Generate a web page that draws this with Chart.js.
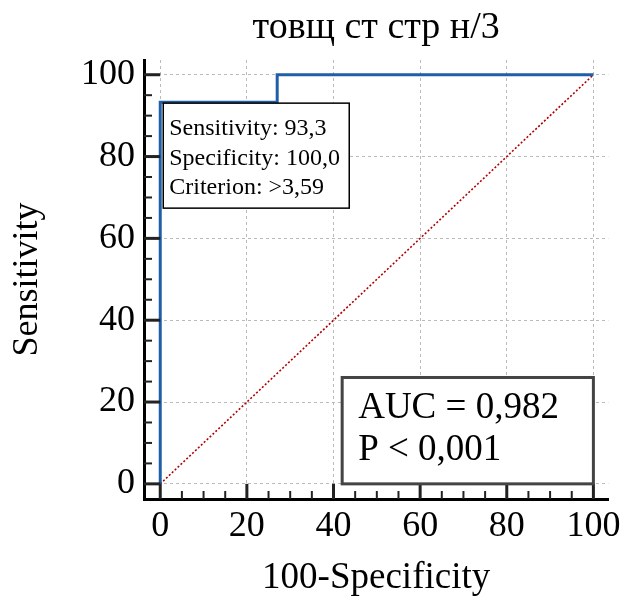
<!DOCTYPE html>
<html><head><meta charset="utf-8">
<script src="https://cdn.jsdelivr.net/npm/chart.js@4/dist/chart.umd.min.js"></script>
<style>html,body{margin:0;padding:0;background:#fff}#wrap{width:627px;height:599px}</style>
</head><body><div id="wrap"><canvas id="c" width="627" height="599"></canvas></div>
<script>
const titleText = "товщ ст стр н/3";
const xTitle = "100-Specificity";
const yTitle = "Sensitivity";
const rocX = [0, 0, 27, 27, 100];
const rocY = [0, 93.3, 93.3, 100, 100];
const diagX = [0, 100];
const diagY = [0, 100];
const majorTicks = [0, 20, 40, 60, 80, 100];
const minorTicks = [5,10,15,25,30,35,45,50,55,65,70,75,85,90,95];
const infoLines = ["Sensitivity: 93,3", "Specificity: 100,0", "Criterion: >3,59"];
const aucLines = ["AUC = 0,982", "P < 0,001"];
const cutPoint = {x: 0, y: 93.3};
const aucBox = {x0: 42, y0: 26, x1: 100, y1: 0};

const FONT = "'Liberation Serif','Times New Roman',serif";
const toPts = (xs, ys) => xs.map((x, i) => ({x, y: ys[i]}));

const overlay = {
  id: 'overlay',
  afterDraw(chart) {
    const ctx = chart.ctx, xs = chart.scales.x, ys = chart.scales.y, a = chart.chartArea;
    ctx.save();
    ctx.strokeStyle = '#222';
    majorTicks.forEach(v => {
      ctx.lineWidth = 3;
      const px = xs.getPixelForValue(v), py = ys.getPixelForValue(v);
      ctx.beginPath(); ctx.moveTo(px, a.bottom); ctx.lineTo(px, ys.getPixelForValue(0)); ctx.stroke();
      ctx.beginPath(); ctx.moveTo(a.left, py); ctx.lineTo(xs.getPixelForValue(0), py); ctx.stroke();
    });
    minorTicks.forEach(v => {
      ctx.lineWidth = 2;
      const px = xs.getPixelForValue(v), py = ys.getPixelForValue(v);
      ctx.beginPath(); ctx.moveTo(px, a.bottom); ctx.lineTo(px, a.bottom - 8); ctx.stroke();
      ctx.beginPath(); ctx.moveTo(a.left, py); ctx.lineTo(a.left + 8, py); ctx.stroke();
    });
    const bx = xs.getPixelForValue(cutPoint.x) + 3, by = ys.getPixelForValue(cutPoint.y) + 1;
    ctx.fillStyle = '#fff'; ctx.fillRect(bx, by, 186, 105);
    ctx.strokeStyle = '#000'; ctx.lineWidth = 1.5; ctx.strokeRect(bx, by, 186, 105);
    ctx.fillStyle = '#000'; ctx.font = '24px ' + FONT; ctx.textBaseline = 'alphabetic';
    infoLines.forEach((t, i) => ctx.fillText(t, bx + 6, by + 32 + i * 29.5));
    const ax0 = xs.getPixelForValue(aucBox.x0), ay0 = ys.getPixelForValue(aucBox.y0);
    const ax1 = xs.getPixelForValue(aucBox.x1), ay1 = ys.getPixelForValue(aucBox.y1);
    ctx.fillStyle = '#fff'; ctx.fillRect(ax0, ay0, ax1 - ax0, ay1 - ay0);
    ctx.strokeStyle = '#444'; ctx.lineWidth = 3; ctx.strokeRect(ax0, ay0, ax1 - ax0, ay1 - ay0);
    ctx.fillStyle = '#000'; ctx.font = '37px ' + FONT;
    aucLines.forEach((t, i) => ctx.fillText(t, ax0 + 16, ay0 + 41 + i * 42));
    ctx.restore();
  }
};

new Chart(document.getElementById('c'), {
  type: 'line',
  data: {
    datasets: [
      {data: toPts(rocX, rocY), borderColor: '#1f5ea8', borderWidth: 3, pointRadius: 0, fill: false, tension: 0, order: 0},
      {data: toPts(diagX, diagY), borderColor: '#b00000', borderWidth: 1.6, borderDash: [2, 2], pointRadius: 0, fill: false, tension: 0, order: 1}
    ]
  },
  options: {
    responsive: false, animation: false, devicePixelRatio: 1,
    layout: {padding: {left: 0, right: 15, top: 0, bottom: 0}},
    plugins: {
      legend: {display: false}, tooltip: {enabled: false},
      title: {display: true, fullSize: false, text: titleText, color: '#000', font: {family: FONT, size: 38, weight: 'normal', lineHeight: 1.2}, padding: {top: 5, bottom: 9.4}}
    },
    scales: {
      x: {
        type: 'linear', min: -3.75, max: 103.45,
        afterBuildTicks: s => { s.ticks = majorTicks.map(v => ({value: v})); },
        afterFit: s => { s.height = 100; },
        ticks: {color: '#000', font: {family: FONT, size: 36}, padding: 6, maxRotation: 0, autoSkip: false},
        grid: {color: '#bbb', lineWidth: 1, drawTicks: false, tickLength: 0},
        border: {display: true, color: '#000', width: 3, dash: [3, 3]},
        title: {display: true, text: xTitle, color: '#000', font: {family: FONT, size: 37, lineHeight: 1.1}, padding: {top: 0, bottom: 0}}
      },
      y: {
        type: 'linear', min: -3.7, max: 103.6,
        afterBuildTicks: s => { s.ticks = majorTicks.map(v => ({value: v})); },
        afterFit: s => { s.width = 144; },
        ticks: {color: '#000', font: {family: FONT, size: 36}, padding: 9, autoSkip: false},
        grid: {color: '#bbb', lineWidth: 1, drawTicks: false, tickLength: 0},
        border: {display: true, color: '#000', width: 3, dash: [3, 3]},
        title: {display: true, text: yTitle, color: '#000', font: {family: FONT, size: 36, lineHeight: 1.2}, padding: {top: 6, bottom: 0}}
      }
    }
  },
  plugins: [overlay]
});
</script></body></html>
